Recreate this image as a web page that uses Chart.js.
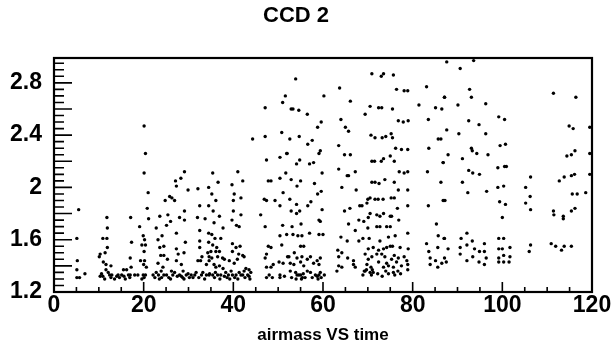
<!DOCTYPE html>
<html>
<head>
<meta charset="utf-8">
<script src="https://cdn.jsdelivr.net/npm/chart.js@4.4.1/dist/chart.umd.min.js"></script>
<style>
  body { margin: 0; background: #fff; }
  #wrap { width: 612px; height: 352px; }
</style>
</head>
<body>
<div id="wrap"><canvas id="grafico"></canvas></div>
<script>
// airmass vs time
const noite1 = [[5.5,1.83],[5.1,1.61],[5.2,1.44],[5.1,1.37],[5.1,1.31],[5.7,1.31],[6.9,1.34],
  [11.8,1.77],[11.9,1.69],[10.9,1.61],[11.8,1.61],[11.9,1.54],[10.3,1.49],[11.4,1.50],[10.1,1.47],
  [11.0,1.43],[11.6,1.41],[12.7,1.40],[11.6,1.37],[12.1,1.35],[10.3,1.32],[10.9,1.32],[12.4,1.33],
  [12.7,1.31],[14.0,1.32],[14.6,1.31],[15.1,1.33],[15.5,1.37],[16.2,1.37],[15.6,1.32],[16.6,1.33],
  [17.1,1.77],[17.3,1.58],[17.0,1.46],[17.2,1.39],[17.0,1.33],[13.5,1.30],[14.3,1.33],[15.9,1.30],
  [16.9,1.31],[11.3,1.30],[12.9,1.33],[10.6,1.34]];

const noite2 = [[20.1,2.47],[20.4,2.26],[20.1,2.11],[21.0,1.96],[20.8,1.84],[21.1,1.76],[19.1,1.70],
  [19.9,1.63],[20.2,1.60],[19.6,1.56],[20.4,1.56],[20.1,1.51],[19.3,1.44],[20.2,1.44],[20.0,1.41],
  [20.6,1.39],[18.0,1.33],[18.7,1.33],[19.9,1.33],[20.4,1.33],[19.6,1.30],[20.1,1.31],
  [29.1,2.12],[27.1,2.05],[28.3,2.07],[27.3,2.01],[24.8,1.90],[25.8,1.93],[26.3,1.92],[26.9,1.90],
  [29.9,1.98],[32.1,1.99],[34.5,2.00],[29.1,1.82],[32.5,1.86],[34.5,1.86],[23.6,1.78],[25.4,1.79],
  [28.0,1.77],[29.1,1.75],[32.0,1.77],[33.7,1.76],[26.0,1.74],[22.8,1.69],[25.1,1.71],[32.5,1.67],
  [34.5,1.65],[24.1,1.63],[23.2,1.60],[27.3,1.65],[29.3,1.58],[32.5,1.59],[34.5,1.58],[23.6,1.54],
  [24.5,1.55],[27.3,1.53],[32.5,1.54],[27.7,1.49],[29.0,1.50],[23.8,1.48],[24.5,1.48],[33.0,1.47],
  [34.3,1.50],[23.2,1.42],[25.3,1.45],[27.3,1.44],[28.4,1.41],[32.1,1.44],[32.7,1.44],[34.6,1.44],
  [34.0,1.41],[22.1,1.33],[22.8,1.35],[23.3,1.33],[23.9,1.36],[24.5,1.33],[25.1,1.33],[24.3,1.39],
  [26.2,1.36],[26.5,1.33],[26.9,1.35],[28.0,1.33],[28.4,1.32],[28.8,1.36],[29.5,1.33],[29.9,1.34],
  [30.6,1.33],[31.4,1.33],[31.7,1.35],[32.9,1.33],[33.2,1.35],[34.0,1.33],[34.7,1.34],[22.5,1.31],
  [23.5,1.30],[25.6,1.31],[27.5,1.32],[29.0,1.30],[30.2,1.31],[31.0,1.31],[32.3,1.31],[33.6,1.30],
  [24.0,1.31],[26.0,1.30],[28.7,1.31]];

const noite3 = [[35.4,2.11],[41.0,2.12],[36.6,2.04],[42.1,2.05],[39.7,2.02],[35.2,1.95],[36.1,1.90],
  [40.2,1.95],[41.7,1.92],[40.0,1.90],[35.5,1.82],[40.0,1.82],[36.9,1.78],[41.7,1.79],[39.7,1.75],
  [35.7,1.73],[40.7,1.71],[41.3,1.70],[37.7,1.69],[35.2,1.64],[35.9,1.61],[37.2,1.61],[35.4,1.56],
  [36.3,1.54],[39.8,1.57],[40.6,1.54],[41.5,1.55],[35.0,1.51],[36.1,1.51],[36.9,1.51],[39.8,1.51],
  [41.2,1.49],[42.1,1.48],[42.4,1.47],[34.6,1.47],[35.2,1.46],[36.5,1.47],[37.6,1.46],[38.0,1.45],
  [39.1,1.44],[40.2,1.42],[40.9,1.45],[35.7,1.41],[36.1,1.39],[36.9,1.40],[37.7,1.38],
  [34.6,1.33],[35.4,1.33],[36.0,1.35],[36.5,1.33],[37.2,1.33],[38.0,1.32],[38.3,1.35],[38.9,1.33],
  [39.5,1.36],[39.8,1.33],[40.6,1.33],[41.3,1.35],[41.7,1.33],[42.1,1.33],[42.4,1.36],[43.2,1.33],
  [43.5,1.32],[43.9,1.35],[42.8,1.38],[43.5,1.37],[35.8,1.31],[37.0,1.30],[38.6,1.31],[40.3,1.31],
  [41.0,1.30],[42.6,1.31],[43.7,1.30],[39.2,1.30],
  [44.3,2.37],[47.1,2.61],[47.1,2.39],[47.4,2.21],[51.0,2.65],[51.6,2.70],[50.8,2.42],[51.9,2.26],
  [50.4,2.23],[47.8,2.05],[48.4,2.05],[51.7,2.11],[50.4,2.07],[46.9,1.91],[47.4,1.90],[51.1,1.96],
  [49.3,1.90],[50.4,1.86],[46.1,1.79],[51.0,1.71],[47.1,1.70],[51.9,1.64],[50.4,1.63],[47.8,1.55],
  [48.4,1.54],[50.8,1.56],[47.4,1.49],[52.1,1.47],[47.1,1.46],[50.2,1.43],[51.1,1.42],[47.4,1.39],
  [48.4,1.39],[48.9,1.41],[47.4,1.31],[48.0,1.33],[48.7,1.31],[50.4,1.33],[50.4,1.31],[51.4,1.32]];

const noite4 = [[53.9,2.83],[53.3,2.60],[54.6,2.59],[52.9,2.60],[56.5,2.56],[60.2,2.70],[63.7,2.76],
  [66.1,2.66],[69.4,2.56],[59.6,2.50],[58.8,2.46],[64.0,2.52],[65.0,2.46],[65.7,2.43],[54.7,2.39],
  [52.6,2.37],[56.6,2.33],[57.6,2.36],[63.5,2.32],[59.1,2.26],[59.4,2.28],[64.8,2.25],[66.1,2.25],
  [52.0,2.26],[54.8,2.21],[54.1,2.18],[57.0,2.18],[57.9,2.19],[59.8,2.11],[63.5,2.14],[65.4,2.09],
  [65.7,2.09],[67.2,2.12],[52.9,2.06],[55.0,2.05],[58.1,2.03],[54.2,2.01],[64.2,2.00],[59.6,1.97],
  [58.8,1.95],[67.4,1.98],[52.6,1.91],[57.3,1.89],[54.1,1.87],[56.6,1.86],[59.8,1.83],[64.8,1.82],
  [66.0,1.84],[52.9,1.82],[54.8,1.82],[69.8,1.88],[68.2,1.86],[68.7,1.86],[68.0,1.75],[54.1,1.80],
  [59.1,1.75],[59.4,1.74],[55.1,1.72],[53.1,1.70],[65.7,1.72],[69.1,1.74],[67.2,1.67],[57.0,1.65],
  [53.3,1.64],[54.4,1.63],[55.3,1.63],[59.1,1.64],[60.0,1.64],[64.0,1.62],[65.4,1.59],[68.0,1.59],
  [68.9,1.61],[55.0,1.55],[55.7,1.55],[63.3,1.52],[64.2,1.50],[53.6,1.50],
  [52.4,1.47],[54.2,1.46],[55.3,1.47],[56.5,1.45],[57.2,1.47],[58.7,1.44],[59.4,1.46],[63.5,1.47],
  [65.5,1.46],[66.8,1.44],[52.7,1.42],[53.5,1.41],[55.0,1.43],[55.7,1.40],[57.9,1.42],[59.1,1.41],
  [63.5,1.40],[64.2,1.39],[66.8,1.41],[67.2,1.39],[52.7,1.36],[53.9,1.35],[54.2,1.33],[54.6,1.33],
  [55.0,1.33],[55.6,1.34],[56.5,1.36],[57.2,1.35],[58.3,1.33],[58.7,1.32],[59.1,1.33],[59.4,1.35],
  [63.1,1.36],[69.2,1.36],[69.7,1.37],[68.9,1.33],[53.0,1.31],[54.0,1.30],[55.4,1.31],[56.0,1.31],
  [57.6,1.31],[58.9,1.30],[59.6,1.31],[55.2,1.30],[60.3,1.33]];

const noite5 = [[70.9,2.87],[73.0,2.85],[73.5,2.87],[75.7,2.86],[76.4,2.75],[78.1,2.74],[78.9,2.74],
  [83.1,2.77],[87.1,2.69],[70.5,2.62],[72.4,2.61],[73.1,2.61],[75.5,2.60],[81.4,2.63],[85.1,2.61],
  [86.5,2.60],[76.8,2.51],[77.9,2.50],[79.0,2.51],[83.5,2.52],[70.7,2.40],[71.6,2.38],[73.2,2.38],
  [74.0,2.39],[75.2,2.41],[75.5,2.38],[85.7,2.37],[86.3,2.37],[76.2,2.30],[77.5,2.29],[78.9,2.29],
  [83.6,2.30],[70.9,2.20],[71.5,2.20],[73.0,2.20],[73.5,2.22],[75.0,2.24],[75.9,2.20],[86.8,2.19],
  [77.0,2.12],[78.1,2.11],[78.9,2.12],[83.3,2.12],[70.9,2.04],[71.6,2.04],[72.5,2.03],[73.8,2.06],
  [75.9,2.04],[86.3,2.04],[76.8,1.98],[78.9,1.98],[70.0,1.91],[70.5,1.92],[71.6,1.91],[72.3,1.91],
  [73.4,1.91],[75.2,1.92],[75.9,1.92],[87.2,1.90],[76.6,1.84],[78.9,1.86],[83.5,1.86],[70.5,1.80],
  [72.0,1.79],[72.7,1.78],[73.5,1.80],[70.1,1.77],[75.0,1.78],[75.3,1.78],[76.9,1.75],[70.0,1.69],
  [72.0,1.70],[72.7,1.70],[74.2,1.70],[75.0,1.70],[85.3,1.72],[76.1,1.63],[78.9,1.65],[85.7,1.63],
  [70.3,1.61],[72.7,1.59],[74.6,1.62],[83.1,1.57],[87.0,1.61],
  [70.1,1.53],[71.2,1.54],[72.4,1.52],[73.5,1.53],[74.2,1.54],[75.0,1.55],[75.5,1.55],[77.2,1.54],
  [79.0,1.53],[83.6,1.51],[85.6,1.54],[69.4,1.49],[70.9,1.47],[72.0,1.49],[73.1,1.49],[73.8,1.47],
  [75.9,1.48],[76.8,1.46],[78.1,1.47],[70.1,1.45],[72.4,1.43],[74.2,1.42],[75.3,1.45],[76.4,1.43],
  [78.7,1.44],[83.9,1.46],[85.1,1.44],[69.8,1.41],[70.7,1.39],[71.0,1.37],[73.5,1.39],[74.6,1.40],
  [75.7,1.39],[77.5,1.40],[78.9,1.41],[83.9,1.41],[85.6,1.39],[86.5,1.42],[69.4,1.36],[70.5,1.35],
  [71.2,1.35],[74.0,1.36],[74.6,1.34],[75.7,1.35],[76.7,1.36],[78.9,1.37],[70.8,1.33],[72.2,1.34],
  [73.2,1.32],[76.0,1.33],[77.3,1.34]];

const noite6 = [[87.6,2.96],[93.6,2.97],[90.6,2.91],[92.7,2.75],[87.1,2.69],[93.1,2.69],[90.1,2.63],
  [96.3,2.64],[99.2,2.54],[100.5,2.52],[92.5,2.51],[94.8,2.48],[87.6,2.44],[90.3,2.41],[96.3,2.41],
  [99.5,2.32],[100.7,2.33],[93.1,2.30],[93.3,2.28],[94.3,2.26],[96.8,2.25],[87.9,2.25],[86.8,2.19],
  [91.1,2.22],[99.0,2.15],[100.5,2.16],[100.9,2.16],[92.5,2.13],[93.4,2.11],[94.9,2.10],[91.1,2.04],
  [92.3,1.96],[96.5,1.97],[99.0,2.00],[100.3,2.01],[86.8,1.90],[99.4,1.89],[100.7,1.87],[100.0,1.77],
  [92.1,1.65],[87.1,1.61],[90.8,1.61],[93.3,1.59],[99.2,1.61],[100.3,1.61],[87.9,1.53],[90.6,1.54],
  [92.1,1.56],[93.8,1.53],[96.0,1.57],[99.2,1.53],[100.0,1.53],[101.7,1.54],[90.6,1.49],[94.9,1.51],
  [96.0,1.51],[87.1,1.46],[87.5,1.43],[92.1,1.44],[93.4,1.47],[94.8,1.43],[96.0,1.41],[96.4,1.46],
  [99.2,1.46],[100.3,1.48],[101.7,1.47],[99.2,1.43],[100.3,1.43],[101.5,1.43]];

const noite7 = [[111.4,2.72],[116.4,2.69],[119.5,2.46],[114.9,2.47],[115.8,2.45],[114.4,2.24],
  [115.4,2.25],[116.2,2.28],[119.5,2.26],[106.3,2.08],[113.8,2.08],[112.7,2.05],[115.4,2.09],
  [116.1,2.10],[119.5,2.10],[105.2,2.00],[106.2,1.93],[118.6,1.96],[115.6,1.95],[116.7,1.95],
  [105.2,1.88],[106.3,1.83],[111.4,1.82],[111.5,1.79],[113.6,1.78],[113.6,1.76],[115.4,1.82],
  [116.2,1.84],[106.3,1.56],[106.0,1.51],[110.9,1.57],[111.9,1.55],[113.2,1.52],[113.8,1.55],
  [115.4,1.55]];

const tempoTicks = [0, 20, 40, 60, 80, 100, 120];
const airmassTicks = [1.2, 1.6, 2, 2.4, 2.8];

const pontos = [noite1, noite2, noite3, noite4, noite5, noite6, noite7]
  .flat()
  .map(p => ({ x: p[0], y: p[1] }));

// moldura e tracinhos para dentro, estilo ROOT
const moldura = {
  id: 'moldura',
  afterDraw(chart) {
    const { ctx, chartArea: a, scales } = chart;
    const x = scales.x, y = scales.y;
    ctx.save();
    ctx.strokeStyle = '#000';
    ctx.lineWidth = 1.6;
    ctx.beginPath();
    for (let i = 0; i <= 24; i++) {
      const px = x.getPixelForValue(i * 5);
      const len = i % 4 === 0 ? 10 : 5;
      ctx.moveTo(px, a.bottom);
      ctx.lineTo(px, a.bottom - len);
    }
    for (let i = 0; 1.2 + i * 0.05 <= y.max + 1e-9; i++) {
      const py = y.getPixelForValue(1.2 + i * 0.05);
      const len = i % 4 === 0 ? 18 : 10;
      ctx.moveTo(a.left, py);
      ctx.lineTo(a.left + len, py);
    }
    ctx.stroke();
    ctx.lineWidth = 2.2;
    ctx.strokeRect(a.left, a.top, a.right - a.left, a.bottom - a.top);
    ctx.restore();
  }
};

const fonte = 'Liberation Sans, Arial, Helvetica, sans-serif';

new Chart(document.getElementById('grafico'), {
  type: 'scatter',
  data: {
    datasets: [{
      data: pontos,
      backgroundColor: '#000',
      borderWidth: 0,
      pointRadius: 1.7
    }]
  },
  options: {
    responsive: true,
    maintainAspectRatio: false,
    animation: false,
    layout: { padding: { left: 0, right: 20, top: 0, bottom: 0 } },
    plugins: {
      legend: { display: false },
      tooltip: { enabled: false },
      title: {
        display: true,
        text: 'CCD 2',
        color: '#000',
        font: { family: fonte, size: 22, weight: 'bold' },
        padding: { top: 3, bottom: 28.6 }
      }
    },
    scales: {
      x: {
        type: 'linear',
        min: 0,
        max: 120,
        afterBuildTicks: s => { s.ticks = tempoTicks.map(v => ({ value: v })); },
        afterFit: s => { s.height = 60; },
        grid: { display: false, drawTicks: false },
        border: { display: false },
        ticks: {
          color: '#000',
          font: { family: fonte, size: 23, weight: 'bold' },
          padding: 0,
          maxRotation: 0,
          autoSkip: false
        },
        title: {
          display: true,
          text: 'airmass VS time',
          color: '#000',
          font: { family: fonte, size: 17, weight: 'bold' },
          padding: { top: 0, bottom: 6 }
        }
      },
      y: {
        type: 'linear',
        min: 1.2,
        max: 2.99,
        afterBuildTicks: s => { s.ticks = airmassTicks.map(v => ({ value: v })); },
        afterFit: s => { s.width = 54; },
        grid: { display: false, drawTicks: false },
        border: { display: false },
        ticks: {
          color: '#000',
          font: { family: fonte, size: 23, weight: 'bold' },
          padding: 12,
          callback: v => String(v)
        }
      }
    }
  },
  plugins: [moldura]
});
</script>
</body>
</html>
